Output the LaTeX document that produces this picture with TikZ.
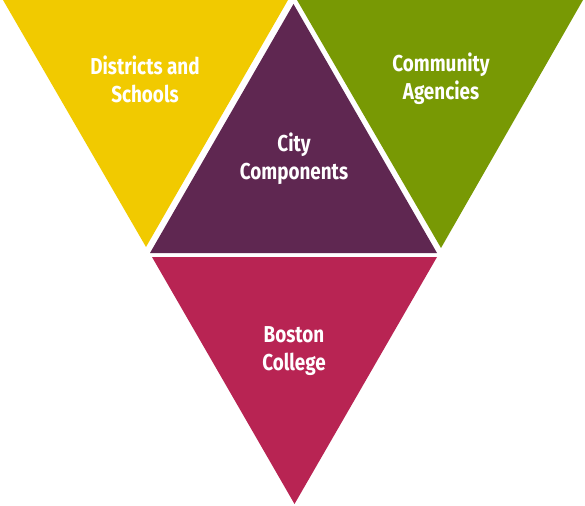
\documentclass[tikz,border=0pt]{standalone}
\usepackage{fontspec}
\setmainfont{Fira Sans}[FakeStretch=0.82]
\definecolor{cyellow}{HTML}{F1CA00}
\definecolor{cgreen}{HTML}{789904}
\definecolor{cpurple}{HTML}{5F2751}
\definecolor{cred}{HTML}{B82453}
\tikzset{
  lbl/.style={text=white, font=\fontsize{23}{28}\selectfont\bfseries, align=center, inner sep=0pt}
}
\begin{document}
\begin{tikzpicture}[x=1pt,y=-1pt]
\useasboundingbox (0,0) rectangle (585,505);
\fill[cyellow] (3,0) -- (288,0) -- (146,247) -- cycle;
\fill[cgreen] (297,0) -- (583,0) -- (441,248) -- cycle;
\fill[cpurple] (293.5,4) -- (437,253) -- (150,253) -- cycle;
\fill[cred] (152,257) -- (437,257) -- (294.5,504) -- cycle;
\node[lbl] (t1) at (145,79) {Districts and\\Schools};
\node[lbl] (t2) at (441,79) {Community\\Agencies};
\node[lbl] (t3) at (294,159) {City\\Components};
\node[lbl] (t4) at (294,351) {Boston\\College};
\end{tikzpicture}
\end{document}
